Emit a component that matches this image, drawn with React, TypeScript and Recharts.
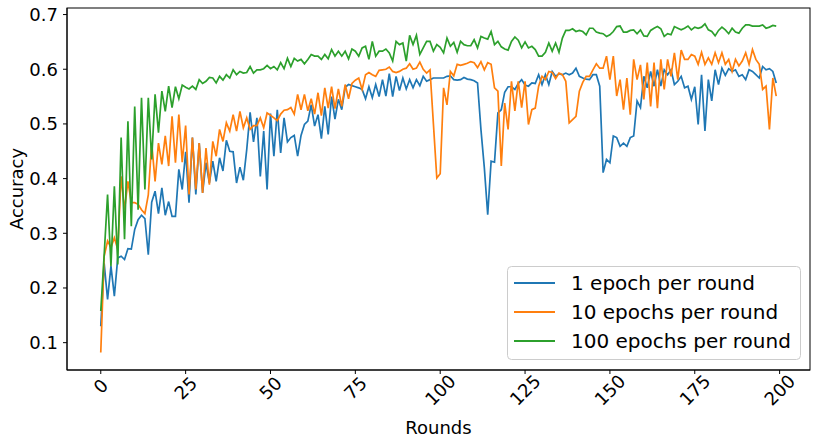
import { LineChart, Line, XAxis, YAxis } from "recharts";

const FONT = "'DejaVu Sans', sans-serif";

const seriesNames = ["1 epoch per round", "10 epochs per round", "100 epochs per round"];
const seriesColors = ["#1f77b4", "#ff7f0e", "#2ca02c"];

const xTicks = [0, 25, 50, 75, 100, 125, 150, 175, 200];
const yTicks = [0.1, 0.2, 0.3, 0.4, 0.5, 0.6, 0.7];

// accuracy per round
const oneEpoch = [
  0.130, 0.245, 0.179, 0.240, 0.185, 0.255, 0.258, 0.252, 0.272, 0.271,
  0.307, 0.325, 0.333, 0.327, 0.261, 0.357, 0.377, 0.336, 0.383, 0.333,
  0.358, 0.331, 0.331, 0.417, 0.380, 0.449, 0.356, 0.475, 0.371, 0.465,
  0.374, 0.429, 0.392, 0.432, 0.395, 0.438, 0.414, 0.470, 0.450, 0.449,
  0.392, 0.421, 0.397, 0.453, 0.521, 0.467, 0.511, 0.404, 0.487, 0.380,
  0.519, 0.441, 0.526, 0.447, 0.511, 0.467, 0.475, 0.479, 0.441, 0.479,
  0.499, 0.505, 0.535, 0.496, 0.517, 0.473, 0.532, 0.481, 0.550, 0.509,
  0.545, 0.526, 0.567, 0.572, 0.570, 0.568, 0.566, 0.563, 0.546, 0.568,
  0.548, 0.572, 0.550, 0.581, 0.551, 0.592, 0.550, 0.587, 0.561, 0.584,
  0.564, 0.581, 0.566, 0.581, 0.570, 0.587, 0.578, 0.581, 0.584, 0.584,
  0.584, 0.584, 0.587, 0.588, 0.581, 0.580, 0.581, 0.585, 0.582, 0.581,
  0.579, 0.575, 0.490, 0.420, 0.334, 0.432, 0.430, 0.520, 0.526, 0.558,
  0.568, 0.568, 0.563, 0.574, 0.581, 0.571, 0.569, 0.575, 0.574, 0.590,
  0.572, 0.590, 0.572, 0.596, 0.587, 0.592, 0.590, 0.593, 0.590, 0.593,
  0.602, 0.587, 0.584, 0.582, 0.581, 0.590, 0.590, 0.569, 0.411, 0.435,
  0.429, 0.478, 0.475, 0.459, 0.465, 0.459, 0.475, 0.478, 0.542, 0.530,
  0.587, 0.566, 0.596, 0.569, 0.599, 0.569, 0.599, 0.590, 0.599, 0.572,
  0.578, 0.587, 0.566, 0.569, 0.545, 0.568, 0.499, 0.590, 0.487, 0.581,
  0.542, 0.599, 0.572, 0.602, 0.589, 0.601, 0.596, 0.599, 0.587, 0.590,
  0.581, 0.599, 0.596, 0.590, 0.584, 0.605, 0.599, 0.601, 0.596, 0.575,
];

const tenEpochs = [
  0.082, 0.258, 0.286, 0.274, 0.292, 0.271, 0.404, 0.343, 0.395, 0.356,
  0.356, 0.353, 0.343, 0.336, 0.370, 0.465, 0.395, 0.465, 0.426, 0.478,
  0.423, 0.514, 0.429, 0.517, 0.430, 0.497, 0.371, 0.475, 0.380, 0.465,
  0.374, 0.456, 0.389, 0.468, 0.441, 0.490, 0.468, 0.502, 0.487, 0.517,
  0.487, 0.523, 0.493, 0.511, 0.490, 0.497, 0.497, 0.511, 0.493, 0.520,
  0.516, 0.511, 0.506, 0.518, 0.525, 0.526, 0.530, 0.518, 0.554, 0.526,
  0.554, 0.524, 0.546, 0.518, 0.557, 0.515, 0.566, 0.529, 0.568, 0.528,
  0.564, 0.532, 0.572, 0.546, 0.574, 0.580, 0.584, 0.563, 0.590, 0.594,
  0.590, 0.587, 0.598, 0.599, 0.600, 0.604, 0.596, 0.594, 0.596, 0.600,
  0.602, 0.610, 0.600, 0.602, 0.613, 0.600, 0.593, 0.599, 0.500, 0.401,
  0.409, 0.566, 0.535, 0.596, 0.588, 0.609, 0.607, 0.609, 0.611, 0.614,
  0.612, 0.603, 0.614, 0.599, 0.612, 0.609, 0.566, 0.560, 0.423, 0.538,
  0.490, 0.578, 0.524, 0.578, 0.530, 0.578, 0.499, 0.526, 0.529, 0.569,
  0.587, 0.581, 0.596, 0.594, 0.583, 0.593, 0.590, 0.578, 0.502, 0.508,
  0.514, 0.560, 0.576, 0.587, 0.587, 0.599, 0.610, 0.602, 0.602, 0.624,
  0.581, 0.624, 0.551, 0.581, 0.526, 0.584, 0.517, 0.618, 0.581, 0.608,
  0.545, 0.612, 0.532, 0.612, 0.529, 0.618, 0.563, 0.618, 0.587, 0.630,
  0.581, 0.635, 0.618, 0.618, 0.627, 0.624, 0.609, 0.631, 0.609, 0.621,
  0.609, 0.630, 0.612, 0.630, 0.609, 0.618, 0.596, 0.618, 0.606, 0.615,
  0.630, 0.609, 0.636, 0.618, 0.609, 0.563, 0.569, 0.490, 0.584, 0.551,
];

const hundredEpochs = [
  0.158, 0.260, 0.371, 0.240, 0.386, 0.243, 0.475, 0.289, 0.505, 0.313,
  0.532, 0.343, 0.548, 0.380, 0.548, 0.435, 0.554, 0.484, 0.560, 0.523,
  0.569, 0.530, 0.568, 0.546, 0.571, 0.567, 0.564, 0.569, 0.563, 0.581,
  0.574, 0.578, 0.585, 0.584, 0.575, 0.587, 0.580, 0.590, 0.584, 0.599,
  0.590, 0.596, 0.593, 0.594, 0.605, 0.593, 0.599, 0.599, 0.601, 0.607,
  0.601, 0.605, 0.599, 0.612, 0.601, 0.620, 0.605, 0.620, 0.615, 0.618,
  0.610, 0.618, 0.627, 0.624, 0.624, 0.618, 0.627, 0.619, 0.636, 0.624,
  0.633, 0.624, 0.633, 0.619, 0.637, 0.633, 0.624, 0.639, 0.642, 0.618,
  0.651, 0.624, 0.633, 0.633, 0.637, 0.630, 0.615, 0.651, 0.645, 0.648,
  0.615, 0.662, 0.645, 0.662, 0.627, 0.639, 0.651, 0.651, 0.633, 0.645,
  0.640, 0.630, 0.657, 0.642, 0.649, 0.631, 0.651, 0.645, 0.643, 0.643,
  0.654, 0.639, 0.660, 0.657, 0.655, 0.669, 0.645, 0.651, 0.641, 0.637,
  0.635, 0.651, 0.659, 0.653, 0.639, 0.650, 0.639, 0.642, 0.636, 0.624,
  0.624, 0.631, 0.648, 0.633, 0.648, 0.631, 0.657, 0.671, 0.671, 0.674,
  0.669, 0.671, 0.669, 0.663, 0.675, 0.675, 0.668, 0.666, 0.665, 0.660,
  0.663, 0.669, 0.678, 0.679, 0.668, 0.668, 0.671, 0.672, 0.665, 0.672,
  0.661, 0.660, 0.671, 0.675, 0.678, 0.674, 0.660, 0.665, 0.663, 0.678,
  0.675, 0.672, 0.675, 0.679, 0.672, 0.677, 0.675, 0.677, 0.683, 0.672,
  0.669, 0.661, 0.671, 0.677, 0.672, 0.665, 0.675, 0.668, 0.666, 0.675,
  0.681, 0.681, 0.679, 0.679, 0.679, 0.681, 0.675, 0.677, 0.680, 0.679,
];

const data = oneEpoch.map((v, i) => ({
  round: i,
  one: v,
  ten: tenEpochs[i],
  hundred: hundredEpochs[i],
}));

const xDomain = [-9.95, 208.95];
const yDomain = [0.05, 0.712];

// plot area box, matches the chart margins and axis sizes below
const PLOT = { left: 67, top: 8, right: 810, bottom: 370 };

function RotatedTick(props: any) {
  const { x, y, payload } = props;
  const label = String(payload.value);
  const cy = y + 10 + label.length * 2;
  return (
    <text
      x={x}
      y={cy}
      transform={`rotate(-45, ${x}, ${cy})`}
      textAnchor="middle"
      dominantBaseline="central"
      fontSize={18}
      fontFamily={FONT}
      fill="#000"
    >
      {label}
    </text>
  );
}

function Overlay() {
  const keys = ["one", "ten", "hundred"];
  return (
    <svg
      width={818}
      height={445}
      style={{ position: "absolute", left: 0, top: 0, pointerEvents: "none" }}
    >
      <rect
        x={PLOT.left}
        y={PLOT.top}
        width={PLOT.right - PLOT.left}
        height={PLOT.bottom - PLOT.top}
        fill="none"
        stroke="#000"
        strokeWidth={1}
      />
      <g transform="translate(507, 266)">
        <rect x={0.5} y={0.5} width={293} height={93} rx={4} fill="rgba(255,255,255,0.8)" stroke="#cccccc" />
        {keys.map((k, i) => (
          <g key={k}>
            <line x1={7} x2={48} y1={17 + i * 29} y2={17 + i * 29} stroke={seriesColors[i]} strokeWidth={2} />
            <text x={64} y={17 + i * 29} dominantBaseline="central" fontSize={20} fontFamily={FONT} fill="#000">
              {seriesNames[i]}
            </text>
          </g>
        ))}
      </g>
    </svg>
  );
}

export default function App() {
  return (
    <div style={{ position: "absolute", left: 0, top: 0, width: 818, height: 445, background: "#fff" }}>
      <LineChart width={818} height={445} data={data} margin={{ top: 8, right: 8, bottom: 0, left: 0 }}>
        <XAxis
          type="number"
          dataKey="round"
          domain={xDomain}
          ticks={xTicks}
          allowDataOverflow
          height={75}
          stroke="#000"
          tickSize={4}
          tickMargin={0}
          tick={<RotatedTick />}
          label={{ value: "Rounds", position: "insideBottom", offset: 11, fontSize: 18, fill: "#000", fontFamily: FONT }}
        />
        <YAxis
          type="number"
          domain={yDomain}
          ticks={yTicks}
          allowDataOverflow
          width={67}
          stroke="#000"
          tickSize={4}
          tickMargin={5}
          tickFormatter={(v: number) => v.toFixed(1)}
          tick={{ fontSize: 18, fill: "#000", fontFamily: FONT }}
          label={{
            value: "Accuracy",
            angle: -90,
            position: "insideLeft",
            offset: 17,
            fontSize: 18,
            fill: "#000",
            fontFamily: FONT,
            style: { textAnchor: "middle" },
          }}
        />
        <Line type="linear" dataKey="one" name={seriesNames[0]} stroke={seriesColors[0]} strokeWidth={1.7} dot={false} isAnimationActive={false} />
        <Line type="linear" dataKey="ten" name={seriesNames[1]} stroke={seriesColors[1]} strokeWidth={1.7} dot={false} isAnimationActive={false} />
        <Line type="linear" dataKey="hundred" name={seriesNames[2]} stroke={seriesColors[2]} strokeWidth={1.7} dot={false} isAnimationActive={false} />
      </LineChart>
      <Overlay />
    </div>
  );
}
